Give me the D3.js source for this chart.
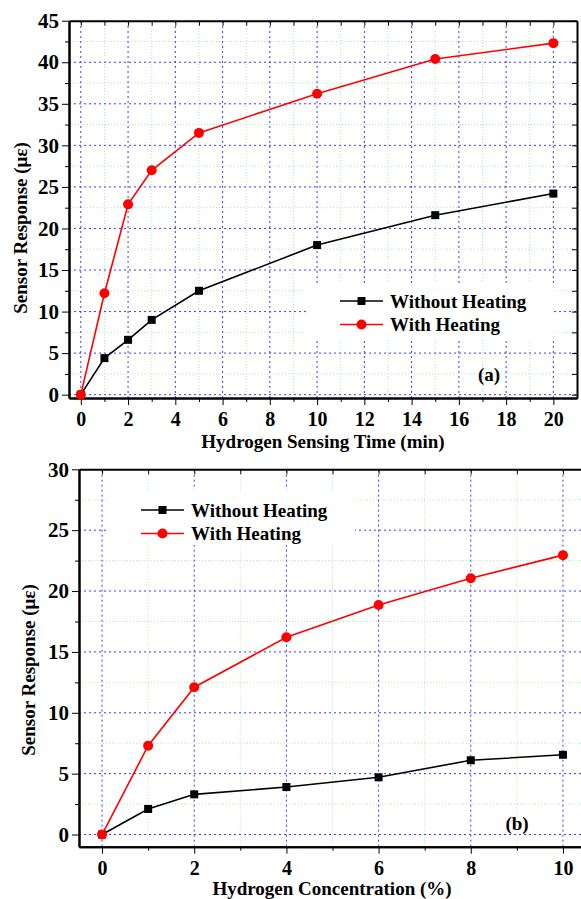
<!DOCTYPE html>
<html lang="en">
<head>
    <meta charset="UTF-8">
    <title>Sensor Response</title>
    <style>
        body { margin: 0; background: #fff; }
        svg text { font-family: "Liberation Serif", "Times New Roman", serif; font-weight: bold; fill: #000; }
        .y-axis .tick text { font-size: 21px; }
        .x-axis .tick text { font-size: 20px; }
        .axis path, .axis line { stroke: #000; }
        .axis path { stroke-width: 2; }
        .axis-title { font-size: 19px; text-anchor: middle; }
        .legend-label { font-size: 19px; }
    </style>
</head>
<body>
    <svg id="chart" width="581" height="899"></svg>

    <script src="https://d3js.org/d3.v7.min.js"></script>
    <script>
        // panel (a): response vs sensing time
        const timeMin = [0, 1, 2, 3, 5, 10, 15, 20];
        const timeWithout = [0, 4.4, 6.6, 9.0, 12.5, 18.0, 21.6, 24.2];
        const timeWith = [0, 12.2, 22.9, 27.0, 31.5, 36.2, 40.4, 42.3];

        // panel (b): response vs concentration
        const concPct = [0, 1, 2, 4, 6, 8, 10];
        const concWithout = [0, 2.1, 3.3, 3.9, 4.7, 6.1, 6.55];
        const concWith = [0, 7.3, 12.1, 16.2, 18.85, 21.05, 22.95];

        const seriesNames = ["Without Heating", "With Heating"];
        const seriesColors = ["#000000", "#ff0000"];

        const svg = d3.select("#chart");

        function drawPanel(p) {
            const g = svg.append("g");
            const x = d3.scaleLinear().domain(p.xDomain).range(p.xRange);
            const y = d3.scaleLinear().domain(p.yDomain).range(p.yRange);
            const [x0, x1] = p.xRange;
            const [y0, y1] = p.yRange; // y0 = bottom, y1 = top

            // grid: green dotted minor, blue dashed major
            g.selectAll(".gx-minor").data(p.xMinor).enter().append("line")
                .attr("x1", d => x(d)).attr("x2", d => x(d))
                .attr("y1", y0).attr("y2", y1)
                .attr("stroke", "#a8f0a8").attr("stroke-width", 1).attr("stroke-dasharray", "1,2");
            g.selectAll(".gy-minor").data(p.yMinor).enter().append("line")
                .attr("x1", x0).attr("x2", x1)
                .attr("y1", d => y(d)).attr("y2", d => y(d))
                .attr("stroke", "#a8f0a8").attr("stroke-width", 1).attr("stroke-dasharray", "1,2");
            g.selectAll(".gx-major").data(p.xMajor).enter().append("line")
                .attr("x1", d => x(d)).attr("x2", d => x(d))
                .attr("y1", y0).attr("y2", y1)
                .attr("stroke", "#3a3aff").attr("stroke-width", 1).attr("stroke-dasharray", "2,3");
            g.selectAll(".gy-major").data(p.yMajor.filter(v => v < p.yDomain[1])).enter().append("line")
                .attr("x1", x0).attr("x2", x1)
                .attr("y1", d => y(d)).attr("y2", d => y(d))
                .attr("stroke", "#3a3aff").attr("stroke-width", 1).attr("stroke-dasharray", "2,3");

            // legend box hides the grid
            g.append("rect")
                .attr("x", p.legend.box[0]).attr("y", p.legend.box[1])
                .attr("width", p.legend.box[2]).attr("height", p.legend.box[3])
                .attr("fill", "#fff");

            // axes: left/bottom ticks out, top/right ticks in
            g.append("g").attr("class", "axis y-axis").attr("transform", `translate(${x0},0)`)
                .call(d3.axisLeft(y).tickValues(p.yMajor).tickSize(7).tickSizeOuter(0).tickPadding(3).tickFormat(d3.format("d")));
            g.append("g").attr("class", "axis").attr("transform", `translate(${x0},0)`)
                .call(d3.axisLeft(y).tickValues(p.yMinor).tickSize(4).tickSizeOuter(0).tickFormat(""));

            g.append("g").attr("class", "axis x-axis").attr("transform", `translate(0,${y0})`)
                .call(d3.axisBottom(x).tickValues(p.xMajor).tickSize(7).tickSizeOuter(0).tickPadding(7).tickFormat(d3.format("d")));
            g.append("g").attr("class", "axis").attr("transform", `translate(0,${y0})`)
                .call(d3.axisBottom(x).tickValues(p.xMinor).tickSize(4).tickSizeOuter(0).tickFormat(""));

            g.append("g").attr("class", "axis").attr("transform", `translate(0,${y1})`)
                .call(d3.axisBottom(x).tickValues(p.xMajor.concat(p.xMinor)).tickSize(5).tickSizeOuter(0).tickFormat(""));
            g.append("g").attr("class", "axis").attr("transform", `translate(${x1},0)`)
                .call(d3.axisLeft(y).tickValues(p.yMajor.concat(p.yMinor)).tickSize(5).tickSizeOuter(0).tickFormat(""));

            // series lines and markers
            p.series.forEach((vals, i) => {
                const pts = p.xs.map((xv, j) => [xv, vals[j]]);
                g.append("path")
                    .datum(pts)
                    .attr("fill", "none")
                    .attr("stroke", seriesColors[i])
                    .attr("stroke-width", 1.6)
                    .attr("d", d3.line().x(d => x(d[0])).y(d => y(d[1])));
            });
            // squares first, circles on top
            g.selectAll(".sq").data(p.xs.map((xv, j) => [xv, p.series[0][j]])).enter().append("rect")
                .attr("x", d => x(d[0]) - 4).attr("y", d => y(d[1]) - 4)
                .attr("width", 8).attr("height", 8).attr("fill", seriesColors[0]);
            g.selectAll(".ci").data(p.xs.map((xv, j) => [xv, p.series[1][j]])).enter().append("circle")
                .attr("cx", d => x(d[0])).attr("cy", d => y(d[1]))
                .attr("r", 5).attr("fill", seriesColors[1]);

            // legend
            const lg = p.legend;
            seriesNames.forEach((name, i) => {
                const ly = lg.y + i * lg.dy;
                g.append("line")
                    .attr("x1", lg.x).attr("x2", lg.x + 43)
                    .attr("y1", ly).attr("y2", ly)
                    .attr("stroke", seriesColors[i]).attr("stroke-width", 1.6);
                if (i === 0) {
                    g.append("rect").attr("x", lg.x + 21.5 - 4).attr("y", ly - 4)
                        .attr("width", 8).attr("height", 8).attr("fill", seriesColors[i]);
                } else {
                    g.append("circle").attr("cx", lg.x + 21.5).attr("cy", ly)
                        .attr("r", 5).attr("fill", seriesColors[i]);
                }
                g.append("text")
                    .attr("class", "legend-label")
                    .attr("x", lg.x + 50).attr("y", ly + 6.5)
                    .text(name);
            });

            // panel label
            g.append("text").attr("class", "axis-title")
                .attr("x", p.tag[0]).attr("y", p.tag[1]).text(p.tag[2]);

            // axis titles
            g.append("text").attr("class", "axis-title")
                .attr("x", p.xTitle[0]).attr("y", p.xTitle[1]).text(p.xTitle[2]);
            g.append("text").attr("class", "axis-title")
                .attr("transform", `translate(${p.yTitle[0]},${p.yTitle[1]}) rotate(-90)`)
                .text("Sensor Response (με)");
        }

        drawPanel({
            xs: timeMin,
            series: [timeWithout, timeWith],
            xDomain: [-0.5, 21], xRange: [69, 577],
            yDomain: [-0.4, 45], yRange: [398, 20.7],
            xMajor: d3.range(0, 21, 2), xMinor: d3.range(1, 21, 2),
            yMajor: d3.range(0, 46, 5), yMinor: d3.range(2.5, 45, 5),
            legend: { x: 340, y: 301, dy: 23.5, box: [306, 283, 248, 55] },
            tag: [489, 381, "(a)"],
            xTitle: [323, 448, "Hydrogen Sensing Time (min)"],
            yTitle: [27, 228]
        });

        drawPanel({
            xs: concPct,
            series: [concWithout, concWith],
            xDomain: [-0.5, 10.5], xRange: [79, 586],
            yDomain: [-1, 30], yRange: [846.7, 469.3],
            xMajor: d3.range(0, 11, 2), xMinor: d3.range(1, 11, 2),
            yMajor: d3.range(0, 31, 5), yMinor: d3.range(2.5, 30, 5),
            legend: { x: 141, y: 510, dy: 23.5, box: [107, 490, 248, 55] },
            tag: [517, 830, "(b)"],
            xTitle: [332, 895, "Hydrogen Concentration (%)"],
            yTitle: [35, 670]
        });
    </script>
</body>
</html>
